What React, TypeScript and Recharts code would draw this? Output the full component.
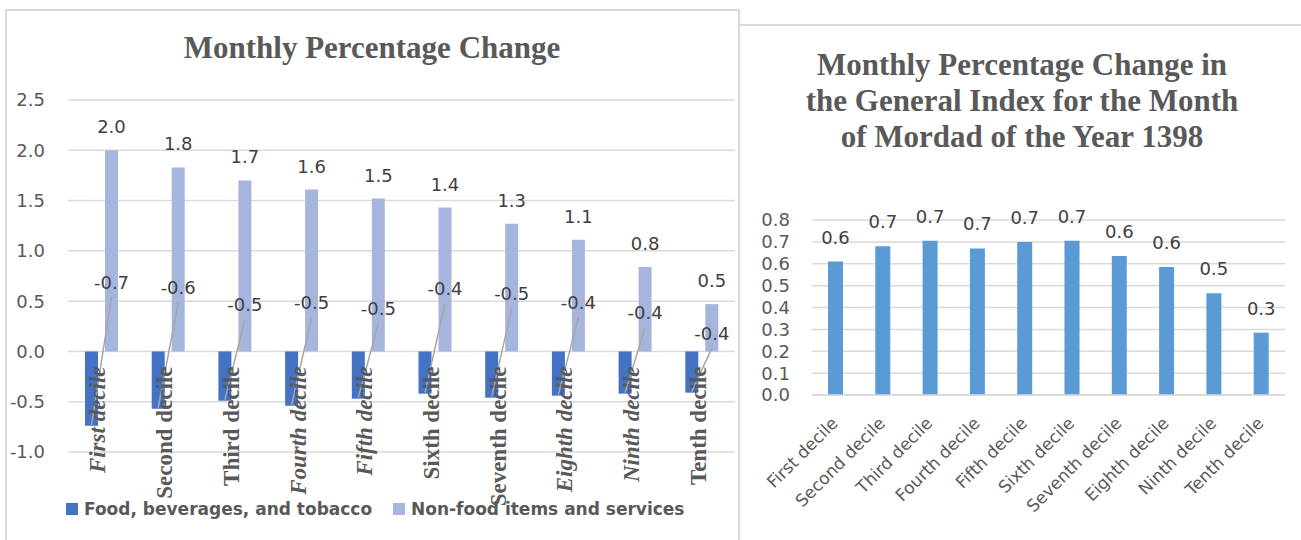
import React from 'react';
import { BarChart, Bar, XAxis, YAxis, CartesianGrid, LabelList } from 'recharts';

const deciles = [
  'First decile',
  'Second decile',
  'Third decile',
  'Fourth decile',
  'Fifth decile',
  'Sixth decile',
  'Seventh decile',
  'Eighth decile',
  'Ninth decile',
  'Tenth decile',
];
const foodChange = [-0.74, -0.57, -0.49, -0.54, -0.47, -0.42, -0.46, -0.44, -0.42, -0.41];
const nonFoodChange = [2.0, 1.83, 1.7, 1.61, 1.52, 1.43, 1.27, 1.11, 0.84, 0.47];
const generalIndex = [0.61, 0.68, 0.705, 0.67, 0.7, 0.705, 0.635, 0.585, 0.465, 0.285];

const leftTicks = [-1, -0.5, 0, 0.5, 1, 1.5, 2, 2.5];
const rightTicks = [0, 0.1, 0.2, 0.3, 0.4, 0.5, 0.6, 0.7, 0.8];

const decileData = deciles.map((name, i) => ({
  name,
  food: foodChange[i],
  nonFood: nonFoodChange[i],
  general: generalIndex[i],
}));

// the food labels were dragged around by hand in the original; px above the zero line
const foodLabelLift = [69, 64, 47, 49, 43, 63, 58, 49, 39, 18];
// the rotated category labels are a mix of italic and upright
const italicTicks = new Set([0, 3, 4, 7, 8]);

const GRID = '#d9d9d9';
const TEXT = '#595959';
const LABEL = '#404040';
const SANS = '"DejaVu Sans", sans-serif';
const SERIF = '"Liberation Serif", "Times New Roman", serif';
const BAR_GAP = 7;

const fmt = (v: any) => Number(v).toFixed(1);

function barBox(props: any) {
  const vb = props.viewBox && props.viewBox.width != null ? props.viewBox : props;
  const x = Number(vb.x);
  const y = Number(vb.y);
  const w = Number(vb.width);
  const h = Number(vb.height);
  return { left: x, width: w, top: Math.min(y, y + h), bottom: Math.max(y, y + h) };
}

// drawn from the non-food bar so the leader lines sit over both bars
const FoodLabel = (props: any) => {
  const { index, value } = props;
  const b = barBox(props);
  const zeroY = b.bottom;
  const ppu = (b.bottom - b.top) / Math.abs(Number(value));
  const food = decileData[index].food;
  const foodEnd = zeroY - food * ppu;
  const foodCx = b.left - BAR_GAP - b.width / 2;
  const lx = b.left + b.width / 2;
  const ly = zeroY - foodLabelLift[index];
  return (
    <g>
      <line x1={lx} y1={ly + 15} x2={foodCx} y2={foodEnd - 1} stroke="#a6a6a6" strokeWidth={1.5} />
      <text
        x={lx}
        y={ly}
        textAnchor="middle"
        dominantBaseline="central"
        fill={LABEL}
        fontSize={18}
        fontFamily={SANS}
      >
        {fmt(food)}
      </text>
    </g>
  );
};

const DecileLabel = (props: any) => {
  const { index } = props;
  const b = barBox(props);
  const x = b.left - BAR_GAP / 2 + 4;
  const y = b.bottom + 15;
  return (
    <text
      x={x}
      y={y}
      transform={`rotate(-90 ${x} ${y})`}
      textAnchor="end"
      fill={TEXT}
      fontSize={23}
      fontWeight="bold"
      fontStyle={italicTicks.has(index) ? 'italic' : 'normal'}
      fontFamily={SERIF}
    >
      {deciles[index]}
    </text>
  );
};

const AngledTick = ({ x, y, payload }: any) => {
  const tx = x - 1;
  const ty = y + 17;
  return (
    <text
      x={tx}
      y={ty}
      transform={`rotate(-45 ${tx} ${ty})`}
      textAnchor="end"
      dominantBaseline="central"
      fill={TEXT}
      fontSize={17}
      fontFamily={SANS}
    >
      {payload.value}
    </text>
  );
};

const LegendItem = ({ color, label, left }: { color: string; label: string; left: number }) => (
  <div style={{ position: 'absolute', left, top: 498, display: 'flex', alignItems: 'center', height: 22 }}>
    <span style={{ width: 12, height: 12, background: color, marginRight: 6 }} />
    <span style={{ fontFamily: SANS, fontWeight: 'bold', fontSize: 17, color: TEXT, whiteSpace: 'nowrap' }}>
      {label}
    </span>
  </div>
);

const titleStyle: React.CSSProperties = {
  position: 'absolute',
  textAlign: 'center',
  fontFamily: SERIF,
  fontWeight: 'bold',
  fontSize: 31,
  lineHeight: '36px',
  color: TEXT,
};

export default function App() {
  return (
    <div style={{ position: 'absolute', left: 0, top: 0, width: 1301, height: 540, overflow: 'hidden', background: '#fff' }}>
      <div
        style={{
          position: 'absolute',
          left: 5,
          top: 9,
          width: 735,
          height: 540,
          boxSizing: 'border-box',
          borderTop: `2px solid ${GRID}`,
          borderLeft: `2px solid ${GRID}`,
          borderRight: `2px solid ${GRID}`,
        }}
      />
      <div style={{ position: 'absolute', left: 738, top: 24, width: 563, height: 2, background: GRID }} />

      <div style={{ ...titleStyle, left: 5, top: 30, width: 734 }}>Monthly Percentage Change</div>
      <div style={{ ...titleStyle, left: 741, top: 47, width: 562 }}>
        Monthly Percentage Change in
        <br />
        the General Index for the Month
        <br />
        of Mordad of the Year 1398
      </div>

      <div style={{ position: 'absolute', left: 0, top: 0 }}>
        <BarChart
          width={740}
          height={540}
          data={decileData}
          barGap={BAR_GAP}
          margin={{ top: 100, right: 5, bottom: 88, left: 8 }}
        >
          <CartesianGrid vertical={false} stroke={GRID} strokeWidth={1.5} />
          <XAxis dataKey="name" hide />
          <YAxis
            width={60}
            domain={[-1, 2.5]}
            ticks={leftTicks}
            interval={0}
            tickFormatter={fmt}
            axisLine={false}
            tickLine={false}
            tickMargin={17}
            tick={{ fill: TEXT, fontSize: 18, fontFamily: SANS }}
          />
          <Bar dataKey="food" fill="#4472c4" barSize={13} isAnimationActive={false} />
          <Bar dataKey="nonFood" fill="#a5b5dc" barSize={13} isAnimationActive={false}>
            <LabelList
              dataKey="nonFood"
              position="top"
              offset={17}
              formatter={fmt}
              fill={LABEL}
              fontSize={18}
              fontFamily={SANS}
            />
            <LabelList dataKey="nonFood" content={FoodLabel} />
            <LabelList dataKey="nonFood" content={DecileLabel} />
          </Bar>
        </BarChart>
      </div>

      <LegendItem color="#4472c4" label="Food, beverages, and tobacco" left={66} />
      <LegendItem color="#a5b5dc" label="Non-food items and services" left={393} />

      <div style={{ position: 'absolute', left: 739, top: 0 }}>
        <BarChart
          width={562}
          height={540}
          data={decileData}
          margin={{ top: 220, right: 16, bottom: 0, left: 13 }}
        >
          <CartesianGrid vertical={false} stroke={GRID} strokeWidth={1.5} />
          <XAxis
            dataKey="name"
            height={145}
            interval={0}
            tickLine={false}
            axisLine={{ stroke: GRID, strokeWidth: 1.5 }}
            tick={<AngledTick />}
          />
          <YAxis
            width={60}
            domain={[0, 0.8]}
            ticks={rightTicks}
            interval={0}
            tickFormatter={fmt}
            axisLine={false}
            tickLine={false}
            tickMargin={16}
            tick={{ fill: TEXT, fontSize: 18, fontFamily: SANS }}
          />
          <Bar dataKey="general" fill="#5b9bd5" barSize={15} isAnimationActive={false}>
            <LabelList
              dataKey="general"
              position="top"
              offset={18}
              formatter={fmt}
              fill={LABEL}
              fontSize={18}
              fontFamily={SANS}
            />
          </Bar>
        </BarChart>
      </div>
    </div>
  );
}
